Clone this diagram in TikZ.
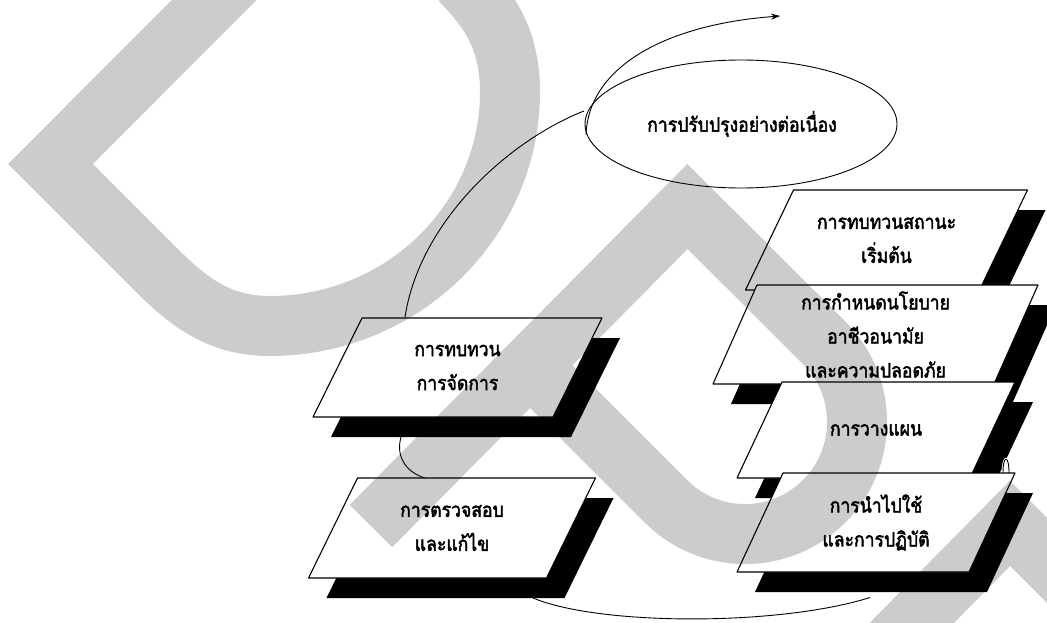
\documentclass[tikz,border=0pt]{standalone}
\usepackage{fontspec}
\newfontfamily\thaifont[Script=Thai,AutoFakeBold=2.2,FakeStretch=0.88]{Loma}
\usetikzlibrary{calc,arrows.meta,shapes.geometric}
\newcommand\paraBox[5]{% cx cy halfwidth halfheight skewoffset
  \fill[black] (#1-#3+#5+18,#2-#4+20) -- (#1+#3+#5+18,#2-#4+20) -- (#1+#3-#5+18,#2+#4+20) -- (#1-#3-#5+18,#2+#4+20) -- cycle;
  \path[boxline] (#1-#3+#5,#2-#4) -- (#1+#3+#5,#2-#4) -- (#1+#3-#5,#2+#4) -- (#1-#3-#5,#2+#4) -- cycle;
}
\begin{document}
\begin{tikzpicture}[x=1pt,y=-1pt,
  boxline/.style={draw=black,line width=1.1pt,fill=white,line join=round},
  conn/.style={draw=black,line width=0.9pt},
  thtext/.style={font=\thaifont\bfseries\fontsize{20}{34}\selectfont,align=center,inner sep=0pt},
  wm/.style={draw=black,draw opacity=0.2,line width=60pt,line cap=butt,line join=miter}
]
\useasboundingbox (0,0) rectangle (1047,623);
\fill[white] (0,0) rectangle (1047,623);

% ellipse
\node[draw=black,line width=0.9pt,ellipse,minimum width=312pt,minimum height=128pt,inner sep=0pt] (ce) at (741,124) {};
\node[thtext] (cet) at (742,124) {การปรับปรุงอย่างต่อเนื่อง};
\coordinate (tip) at (780,16);

% named centres of the boxes
\coordinate (l1) at (457.5,367.5);
\coordinate (l2) at (452,528);
\coordinate (r1) at (886.5,240);
\coordinate (r2) at (875.5,334.5);
\coordinate (r3) at (876,430);
\coordinate (r4) at (876,522.5);

% connectors
\draw[conn] ($(l1)+(-52.5,-50.5)$) .. controls (420,220) and (510,140) .. ($(ce)+(-157,-13)$);
\draw[conn,-{Stealth[length=9pt,width=6pt]}] ($(ce)+(-155,11)$) .. controls (588,70) and (660,25) .. (tip);
\draw[conn] ($(l1)+(-56,68)$) .. controls (395,455) and (405,472) .. ($(l2)+(-27,-50)$);
\draw[conn] ($(l2)+(81,70)$) .. controls (600,626) and (780,626) .. ($(r4)+(-6,75)$);

% boxes
\paraBox{457.5}{367.5}{120}{49.5}{24.5}
\node[thtext] (l1t) at (l1) {การทบทวน\\การจัดการ};
\paraBox{452}{528}{119}{50}{24.5}
\node[thtext] (l2t) at (l2) {การตรวจสอบ\\และแก้ไข};
\paraBox{886.5}{240}{117}{50}{24}
\node[thtext] (r1t) at (r1) {การทบทวนสถานะ\\เริ่มต้น};
\paraBox{875.5}{334.5}{140.5}{49.5}{22}
\node[thtext] (r2t) at (r2) {การกำหนดนโยบาย\\อาชีวอนามัย\\และความปลอดภัย};
\paraBox{876}{430}{116.5}{48}{22.5}
\node[thtext] (r3t) at (r3) {การวางแผน};
\draw[white,line width=2.5pt] ($(r4)+(127,-49.5)$) .. controls ($(r4)+(127,-68)$) and ($(r4)+(133,-68)$) .. ($(r4)+(133,-49.5)$);
\draw[conn] ($(r4)+(127,-49.5)$) .. controls ($(r4)+(127,-68)$) and ($(r4)+(133,-68)$) .. ($(r4)+(133,-49.5)$);
\paraBox{876}{522.5}{116}{49.5}{23}
\node[thtext] (r4t) at (r4) {การนำไปใช้\\และการปฏิบัติ};

% watermark
\draw[wm]
  (300,-86) -- (50.5,164) -- (160,273.5) .. controls (195,308) and (225,326) .. (270,326)
    .. controls (402,326) and (510,221) .. (510,92) .. controls (510,40) and (490,10) .. (460,-20)
  (371,526) -- (687.5,206.5) -- (824.2,342.8) .. controls (868,386.6) and (868,457.4) .. (824.2,501.2)
    .. controls (780.4,545) and (709.6,545) .. (665.8,501.2) -- (529.3,364.7)
  (812,724) -- (1010,523.4) -- (1150,663.4);
\end{tikzpicture}
\end{document}
